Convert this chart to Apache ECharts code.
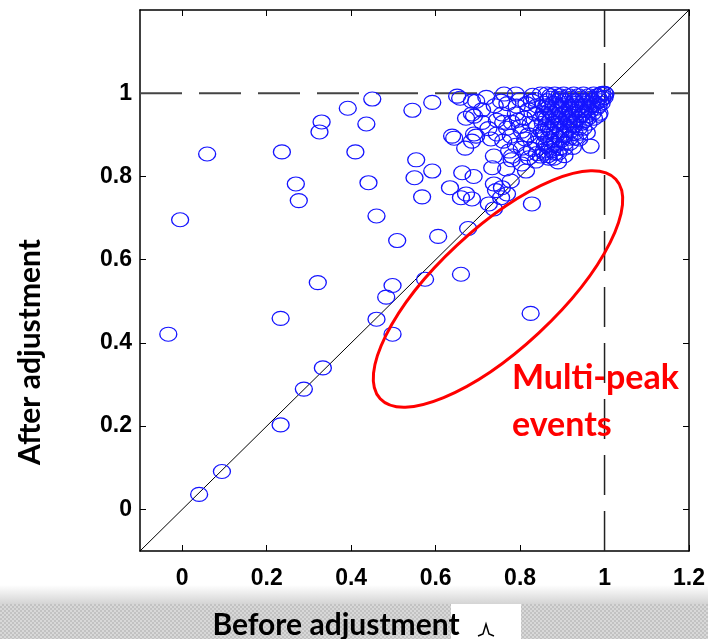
<!DOCTYPE html>
<html>
<head>
<meta charset="utf-8">
<script src="https://cdn.jsdelivr.net/npm/echarts@6/dist/echarts.min.js"></script>
<style>
html,body{margin:0;padding:0;background:#fff;}
#chart{width:708px;height:639px;}
</style>
</head>
<body>
<div id="chart"></div>
<script>
// ---- data ----
var xTickValues = [0, 0.2, 0.4, 0.6, 0.8, 1, 1.2];
var xTickLabels = ['0', '0.2', '0.4', '0.6', '0.8', '1', '1.2'];
var yTickValues = [0, 0.2, 0.4, 0.6, 0.8, 1];
var yTickLabels = ['0', '0.2', '0.4', '0.6', '0.8', '1'];
var xTitle = 'Before adjustment';
var yTitle = 'After adjustment';
var annotation = ['Multi-peak', 'events'];

// scattered events [before, after]
var outerPoints = [
  [-0.033,0.421],[-0.005,0.696],[0.059,0.854],[0.040,0.036],[0.094,0.091],
  [0.233,0.203],[0.288,0.289],[0.333,0.340],[0.233,0.459],[0.321,0.545],
  [0.236,0.859],[0.269,0.782],[0.276,0.742],[0.330,0.931],[0.325,0.907],
  [0.392,0.964],[0.450,0.986],[0.436,0.926],[0.410,0.859],[0.441,0.785],
  [0.460,0.705],[0.509,0.646],[0.460,0.457],[0.498,0.421],[0.483,0.510],
  [0.498,0.538],[0.575,0.553],[0.660,0.565],[0.825,0.471],[0.606,0.656],
  [0.677,0.675],[0.545,0.959],[0.592,0.978],[0.554,0.840],[0.550,0.797],
  [0.592,0.813],[0.568,0.751],[0.634,0.773],[0.660,0.749],[0.672,0.758],
  [0.686,0.746],[0.663,0.809],[0.690,0.800],[0.651,0.993],[0.658,0.988],
  [0.686,0.981],[0.672,0.940],[0.686,0.950],[0.639,0.897],[0.644,0.892],
  [0.670,0.868],[0.691,0.902],[0.686,0.885]
];

// events near the upper-right cluster [before, after]
var midPoints = [
  [0.696,0.981],[0.691,0.945],[0.696,0.897],[0.731,0.890],[0.745,0.902],
  [0.762,0.998],[0.755,0.981],[0.757,0.950],[0.769,0.916],[0.790,0.998],
  [0.792,0.969],[0.809,0.940],[0.778,0.897],[0.804,0.909],[0.828,0.981],
  [0.837,0.950],[0.825,0.926],[0.849,0.998],[0.851,0.909],[0.738,0.849],
  [0.774,0.861],[0.804,0.868],[0.837,0.880],[0.856,0.861],[0.734,0.821],
  [0.781,0.849],[0.767,0.818],[0.804,0.830],[0.821,0.845],[0.837,0.837],
  [0.849,0.849],[0.814,0.813],[0.738,0.782],[0.757,0.773],[0.778,0.789],
  [0.743,0.766],[0.769,0.758],[0.755,0.749],[0.726,0.734],[0.738,0.722],
  [0.828,0.734],[0.720,0.990],[0.740,0.970],[0.710,0.960],[0.770,0.975],
  [0.800,0.985],[0.820,0.960],[0.840,0.970],[0.830,0.995],[0.780,0.930],
  [0.800,0.920],[0.820,0.900],[0.840,0.920],[0.850,0.940],
  [0.760,0.930],[0.790,0.950],[0.815,0.975],[0.835,0.985],[0.795,0.935],
  [0.812,0.890],[0.828,0.865],[0.845,0.895],[0.760,0.885],[0.790,0.875],
  [0.815,0.855],[0.780,0.840],[0.840,0.855],[0.725,0.915],[0.710,0.930],
  [0.745,0.935]
];

var clusterPoints = [
  [0.863,0.998],[0.882,0.998],[0.903,0.998],[0.927,0.998],[0.950,0.998],[0.974,0.998],[0.991,0.998],[1.002,0.998],
  [0.873,0.988],[0.896,0.988],[0.920,0.988],[0.943,0.988],[0.967,0.988],[0.986,0.988],[0.995,0.988],
  [0.856,0.976],[0.880,0.976],[0.910,0.976],[0.934,0.976],[0.958,0.976],[0.979,0.976],[0.993,0.976],
  [0.866,0.964],[0.892,0.964],[0.917,0.964],[0.939,0.964],[0.962,0.964],[0.981,0.964],
  [0.856,0.952],[0.875,0.952],[0.903,0.952],[0.927,0.952],[0.950,0.952],[0.972,0.952],[0.988,0.952],
  [0.863,0.940],[0.887,0.940],[0.910,0.940],[0.936,0.940],[0.960,0.940],[0.975,0.940],
  [0.854,0.928],[0.880,0.928],[0.899,0.928],[0.922,0.928],[0.946,0.928],[0.962,0.928],
  [0.868,0.916],[0.892,0.916],[0.915,0.916],[0.939,0.916],[0.950,0.916],
  [0.856,0.904],[0.882,0.904],[0.906,0.904],[0.929,0.904],[0.941,0.904],
  [0.868,0.892],[0.894,0.892],[0.917,0.892],[0.930,0.892],
  [0.858,0.880],[0.882,0.880],[0.906,0.880],[0.918,0.880],
  [0.870,0.868],[0.894,0.868],[0.905,0.868],
  [0.858,0.856],[0.882,0.856],[0.890,0.856],
  [0.868,0.844],[0.880,0.844],
  [0.986,0.947],[0.967,0.873],[0.958,0.905],[0.940,0.890],[0.925,0.870],
  [0.905,0.850],[0.890,0.835],[1.000,0.990],[1.000,1.000],[0.995,1.000],
  [0.872,0.994],[0.893,0.994],[0.915,0.994],[0.938,0.994],[0.962,0.994],[0.983,0.994],
  [0.865,0.982],[0.888,0.982],[0.905,0.982],[0.930,0.982],[0.952,0.982],[0.972,0.982],[0.990,0.982],
  [0.862,0.970],[0.885,0.970],[0.904,0.970],[0.928,0.970],[0.950,0.970],[0.970,0.970],[0.986,0.970],
  [0.870,0.958],[0.896,0.958],[0.920,0.958],[0.944,0.958],[0.966,0.958],
  [0.860,0.946],[0.880,0.946],[0.898,0.946],[0.920,0.946],[0.944,0.946],[0.958,0.946],
  [0.872,0.934],[0.893,0.934],[0.915,0.934],[0.930,0.934],[0.952,0.934],
  [0.862,0.922],[0.885,0.922],[0.907,0.922],[0.928,0.922],
  [0.872,0.910],[0.896,0.910],[0.920,0.910],
  [0.860,0.898],[0.884,0.898],[0.905,0.898],
  [0.874,0.886],[0.896,0.886],
  [0.862,0.874],[0.884,0.874],
  [0.876,0.862],[0.866,0.850]
];

var identityLine = [[-0.1,-0.1],[1.2,1.2]];
var refLineY = [[-0.1,1],[1.2,1]];
var refLineX = [[1,-0.1],[1,1.2]];

// ---- chart ----
var chart = echarts.init(document.getElementById('chart'), null, {renderer:'canvas'});
var tickFont = {fontFamily:'"Liberation Sans", Arial, sans-serif', fontWeight:'bold', fontSize:23, color:'#000'};
var axisLine = {show:true, onZero:false, lineStyle:{color:'#000', width:1.5}};
var tickStyle = {color:'#000', width:1};

function labelFor(values, labels){
  return function(v){
    for (var i = 0; i < values.length; i++) { if (Math.abs(values[i]-v) < 1e-6) return labels[i]; }
    return '';
  };
}

var allPoints = outerPoints.concat(midPoints, clusterPoints);

// pattern for bottom band
var pc = document.createElement('canvas');
pc.width = 4; pc.height = 4;
var pctx = pc.getContext('2d');
pctx.fillStyle = '#c2c2c2'; pctx.fillRect(0,0,4,4);
pctx.fillStyle = '#d8d8d8'; pctx.fillRect(0,0,2,2); pctx.fillRect(2,2,2,2);

chart.setOption({
  animation:false,
  backgroundColor:'#fff',
  grid:{left:140, right:17, top:10, bottom:88, containLabel:false},
  xAxis:[{
    type:'value', min:-0.1, max:1.2, position:'bottom',
    axisLine:axisLine,
    axisTick:{show:true, inside:true, length:6, lineStyle:tickStyle, customValues:xTickValues},
    axisLabel:Object.assign({margin:16, customValues:xTickValues, formatter:labelFor(xTickValues, xTickLabels)}, tickFont),
    splitLine:{show:false}
  },{
    type:'value', min:-0.1, max:1.2, position:'top',
    axisLine:axisLine,
    axisTick:{show:true, inside:true, length:6, lineStyle:tickStyle, customValues:xTickValues},
    axisLabel:{show:false}, splitLine:{show:false}
  }],
  yAxis:[{
    type:'value', min:-0.1, max:1.2, position:'left',
    axisLine:axisLine,
    axisTick:{show:true, inside:true, length:6, lineStyle:tickStyle, customValues:yTickValues},
    axisLabel:Object.assign({margin:8, customValues:yTickValues, formatter:labelFor(yTickValues, yTickLabels)}, tickFont),
    splitLine:{show:false}
  },{
    type:'value', min:-0.1, max:1.2, position:'right',
    axisLine:axisLine,
    axisTick:{show:true, inside:true, length:6, lineStyle:tickStyle, customValues:yTickValues},
    axisLabel:{show:false}, splitLine:{show:false}
  }],
  series:[
    {type:'line', data:identityLine, symbol:'none', silent:true, z:3,
     lineStyle:{color:'#000', width:1}},
    {type:'line', data:refLineY, symbol:'none', silent:true, z:3,
     lineStyle:{color:'#444', width:1.8, type:[42,17]}},
    {type:'line', data:refLineX, symbol:'none', silent:true, z:3,
     lineStyle:{color:'#222', width:1.5, type:[40,16]}},
    {type:'scatter', data:allPoints, symbol:'circle', symbolSize:[17,14], z:4,
     itemStyle:{color:'rgba(0,0,0,0)', borderColor:'#1414ff', borderWidth:1.2, opacity:1}}
  ],
  graphic:[
    {type:'rect', left:0, top:585, shape:{width:708, height:19}, z:1,
     style:{fill:new echarts.graphic.LinearGradient(0,0,0,1,[{offset:0,color:'#ffffff'},{offset:1,color:'#d4d4d4'}])}},
    {type:'rect', left:0, top:604, shape:{width:708, height:35}, z:1,
     style:{fill:{image:pc, repeat:'repeat'}}},
    {type:'rect', left:451, top:604, shape:{width:70, height:35}, z:2, style:{fill:'#fff'}},
    {type:'polyline', z:3, shape:{points:[[478,636],[483,634],[486,624],[489,634],[494,636]]}, style:{stroke:'#000', lineWidth:1.5, fill:null}},
    {type:'text', z:10, x:336, y:625, style:{text:xTitle, fill:'#000', font:'bold 30px Lato, "Open Sans", sans-serif', textAlign:'center', textVerticalAlign:'middle'}},
    {type:'text', z:10, x:30, y:352, rotation:Math.PI/2, style:{text:yTitle, fill:'#000', font:'bold 30px Lato, "Open Sans", sans-serif', textAlign:'center', textVerticalAlign:'middle'}},
    {type:'ellipse', z:5, x:498, y:289, rotation:0.75, shape:{cx:0, cy:0, rx:161, ry:60},
     style:{stroke:'#ff0000', lineWidth:3, fill:null}},
    {type:'text', z:10, x:512, y:395, style:{text:annotation[0], fill:'#ff0000', font:'bold 34px Lato, "Open Sans", sans-serif', textAlign:'left', textVerticalAlign:'bottom'}},
    {type:'text', z:10, x:512, y:442, style:{text:annotation[1], fill:'#ff0000', font:'bold 34px Lato, "Open Sans", sans-serif', textAlign:'left', textVerticalAlign:'bottom'}}
  ]
});
</script>
</body>
</html>
